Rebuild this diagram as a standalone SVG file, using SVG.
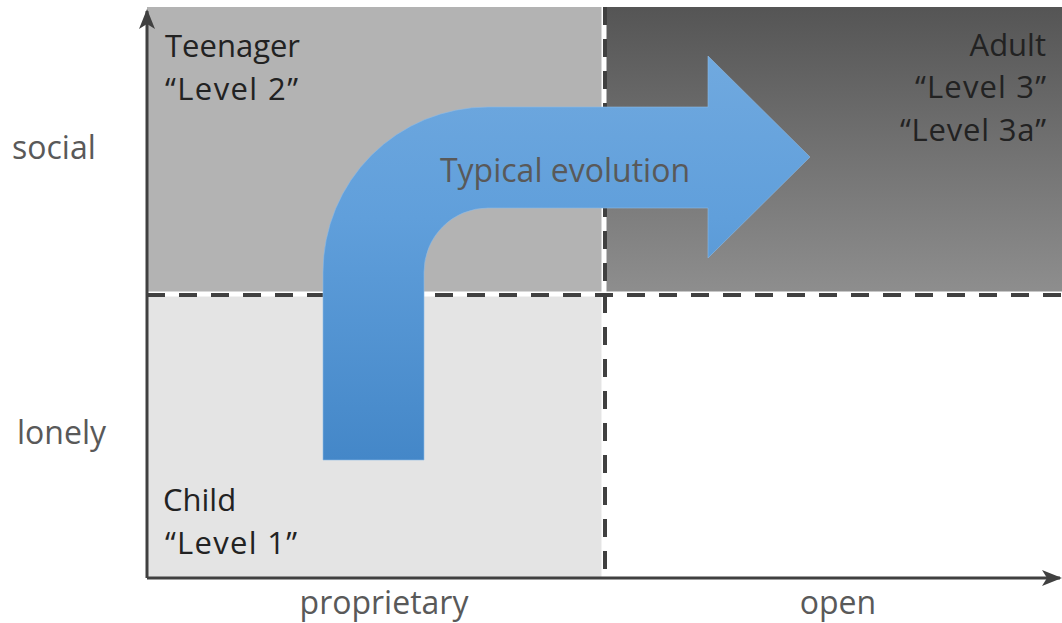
<svg xmlns="http://www.w3.org/2000/svg" width="1062" height="623" viewBox="0 0 1062 623">
<style>
.lbl{font-family:"Open Sans","Liberation Sans",sans-serif;font-size:31px;fill:#222}
.ax{font-family:"Open Sans","Liberation Sans",sans-serif;font-size:32px;fill:#595959}
.axis{stroke:#404040;stroke-width:3;fill:none}
.dash{stroke:#404040;stroke-width:4;stroke-dasharray:18 14;fill:none}
.gap{stroke:#ffffff;stroke-width:5;fill:none}
</style>
<defs>
<linearGradient id="dark" x1="0" y1="0" x2="0" y2="1">
<stop offset="0" stop-color="#555555"/>
<stop offset="1" stop-color="#8e8e8e"/>
</linearGradient>
<linearGradient id="blue" x1="0" y1="56" x2="0" y2="460" gradientUnits="userSpaceOnUse">
<stop offset="0" stop-color="#70a9df"/>
<stop offset="0.4" stop-color="#609fdb"/>
<stop offset="1" stop-color="#4487c8"/>
</linearGradient>
<marker id="ah" viewBox="0 0 20 16" refX="18" refY="8" markerWidth="20" markerHeight="16" markerUnits="userSpaceOnUse" orient="auto">
<path d="M0,0 L20,8 L0,16 L5,8 Z" fill="#404040"/>
</marker>
</defs>
<g id="quadrants">
<rect id="q-teenager" x="147" y="7" width="457" height="286" fill="#b3b3b3"/>
<rect id="q-adult" x="605" y="7" width="457" height="286" fill="url(#dark)"/>
<rect id="q-child" x="147" y="294" width="458" height="284" fill="#e4e4e4"/>
</g>
<g id="connectors">
<line class="gap" x1="604" y1="7" x2="604" y2="578"/>
<line class="gap" x1="147" y1="294" x2="1062" y2="294"/>
<line class="dash" x1="605" y1="7" x2="605" y2="578"/>
<line class="dash" x1="147" y1="295" x2="1062" y2="295"/>
<line class="axis" x1="147" y1="578" x2="147" y2="11" marker-end="url(#ah)"/>
<line class="axis" x1="147" y1="578" x2="1060" y2="578" marker-end="url(#ah)"/>
</g>
<g id="evolution">
<path d="M323 460 L323 272 A165 165 0 0 1 488 107 L708 107 L708 56 L810 157 L708 258 L708 208 L488 208 A64 64 0 0 0 424 272 L424 460 Z" fill="url(#blue)" stroke="#8dbbe6" stroke-width="1" stroke-opacity="0.6"/>
<text class="ax" x="565" y="182" text-anchor="middle">Typical evolution</text>
</g>
<g id="teenager">
<text class="lbl" x="165" y="57">Teenager</text>
<text class="lbl" x="165" y="100" textLength="133" lengthAdjust="spacing">“Level 2”</text>
</g>
<g id="adult">
<text class="lbl" x="1046" y="56" text-anchor="end">Adult</text>
<text class="lbl" x="915" y="98" textLength="131" lengthAdjust="spacing">“Level 3”</text>
<text class="lbl" x="900" y="141" textLength="146" lengthAdjust="spacing">“Level 3a”</text>
</g>
<g id="child">
<text class="lbl" x="163" y="511">Child</text>
<text class="lbl" x="165" y="554" textLength="132" lengthAdjust="spacing">“Level 1”</text>
</g>
<g id="axis-labels">
<text class="ax" x="12" y="159">social</text>
<text class="ax" x="17" y="444">lonely</text>
<text class="ax" x="384" y="614" text-anchor="middle">proprietary</text>
<text class="ax" x="838" y="614" text-anchor="middle">open</text>
</g>
</svg>
